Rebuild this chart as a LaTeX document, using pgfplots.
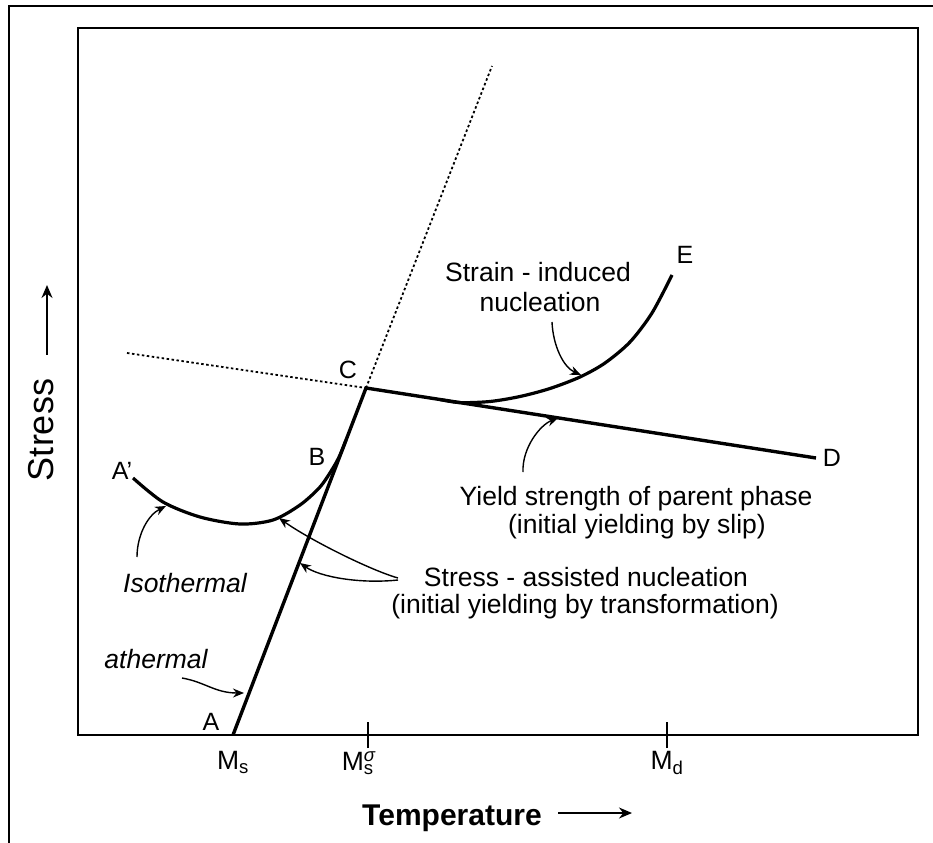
\documentclass[border=0pt]{standalone}
\usepackage{pgfplots}
\pgfplotsset{compat=1.18}
\usepackage{fontspec}
\setmainfont{Liberation Sans}
\usetikzlibrary{arrows.meta}
\newcommand\lf{\fontsize{26.5bp}{30bp}\selectfont}
\newcommand\letf{\fontsize{25bp}{29bp}\selectfont}
\begin{document}
\begin{tikzpicture}
\begin{axis}[
  scale only axis, width=840bp, height=707bp,
  xmin=78, xmax=918, ymin=0, ymax=707,
  clip=false,
  axis line style={line width=1.6bp},
  ytick=\empty,
  xtick pos=bottom,
  xtick={368,667},
  xticklabels={{M\rlap{\textsubscript{s}}\textsuperscript{\textit{σ}}\hspace*{18bp}}, {M\textsubscript{d}}},
  extra x ticks={233},
  extra x tick labels={{M\textsubscript{s}}},
  extra x tick style={tick style={draw=none}},
  major tick length=26bp,
  tick align=center,
  tick style={line width=2bp, black},
  ticklabel style={font=\lf},
  xlabel={\bfseries Temperature},
  xlabel style={at={(axis description cs:0.4452,-0.1273)}, anchor=base, font=\fontsize{30bp}{34bp}\selectfont},
  ylabel={Stress},
  ylabel style={at={(axis description cs:-0.04405,0.4314)}, anchor=center, font=\fontsize{36bp}{40bp}\selectfont},
]
% main lines A-C-D
\addplot[line width=3.4bp] coordinates {(233,0) (366,347) (816,277)};
% dotted extensions
\addplot[line width=1.8bp, dash pattern=on 2.5bp off 2.5bp] coordinates {(366,347) (492,669)};
\addplot[line width=1.8bp, dash pattern=on 2.5bp off 2.5bp] coordinates {(127,382) (366,347)};
% isothermal curve A'-B
\addplot[line width=3.2bp, smooth] coordinates {(133,257) (163,233) (200,218) (240,211) (273,215) (300,230) (320,248) (333,267) (340,280) (346,295)};
% strain-induced curve C-E
\addplot[line width=3.2bp, smooth] coordinates {(440,335.5) (460,332.4) (490,333.5) (520,338.5) (550,346.5) (580,358) (605,372) (630,393) (652,422) (672,460)};

% letter labels
\node[font=\letf] at (122,264) {A'};
\node[font=\letf] at (317,278) {B};
\node[font=\letf] at (348,365) {C};
\node[font=\letf] at (832,277) {D};
\node[font=\letf] at (685,480) {E};
\node[font=\letf] at (211,13) {A};

% annotation texts
\node[font=\lf, anchor=base] at (538,453) {Strain - induced};
\node[font=\lf, anchor=base] at (540,423) {nucleation};
\node[font=\lf, anchor=base] at (636,230) {Yield strength of parent phase};
\node[font=\lf, anchor=base] at (637,202) {(initial yielding by slip)};
\node[font=\lf, anchor=base] at (586,149) {Stress - assisted nucleation};
\node[font=\lf, anchor=base] at (585,122) {(initial yielding by transformation)};
\node[font=\lf\itshape, anchor=base] at (185,143) {Isothermal};
\node[font=\lf\itshape, anchor=base] at (156,67) {athermal};

% annotation arrows
\tikzset{ann/.style={line width=1.4bp, -{Stealth[length=11bp,width=9bp]}}}
\draw[ann] (137,178) .. controls (137,200) and (148,220) .. (166,229);
\draw[ann] (182,57) .. controls (205,53) and (215,42) .. (244,42);
\draw[ann] (398,157) .. controls (370,165) and (310,195) .. (279,217);
\draw[ann] (398,155) .. controls (360,151) and (320,158) .. (300,172);
\draw[ann] (552,413) .. controls (553,390) and (563,368) .. (581,360);
\draw[ann] (523,263) .. controls (522,287) and (540,310) .. (558,317);

% axis-label arrows
\draw[line width=1.6bp, -{Stealth[length=13bp,width=11bp]}] (558,-78) -- (632,-78);
\draw[line width=1.6bp, -{Stealth[length=13bp,width=11bp]}] (47,380) -- (47,450);

% outer frame
\draw[line width=2bp] (9,-140) -- (9,729) -- (950,729);

\coordinate (TL) at (0,735);
\coordinate (BR) at (933,-107);
\end{axis}
\pgfresetboundingbox
\useasboundingbox (TL) rectangle (BR);
\end{tikzpicture}
\end{document}
